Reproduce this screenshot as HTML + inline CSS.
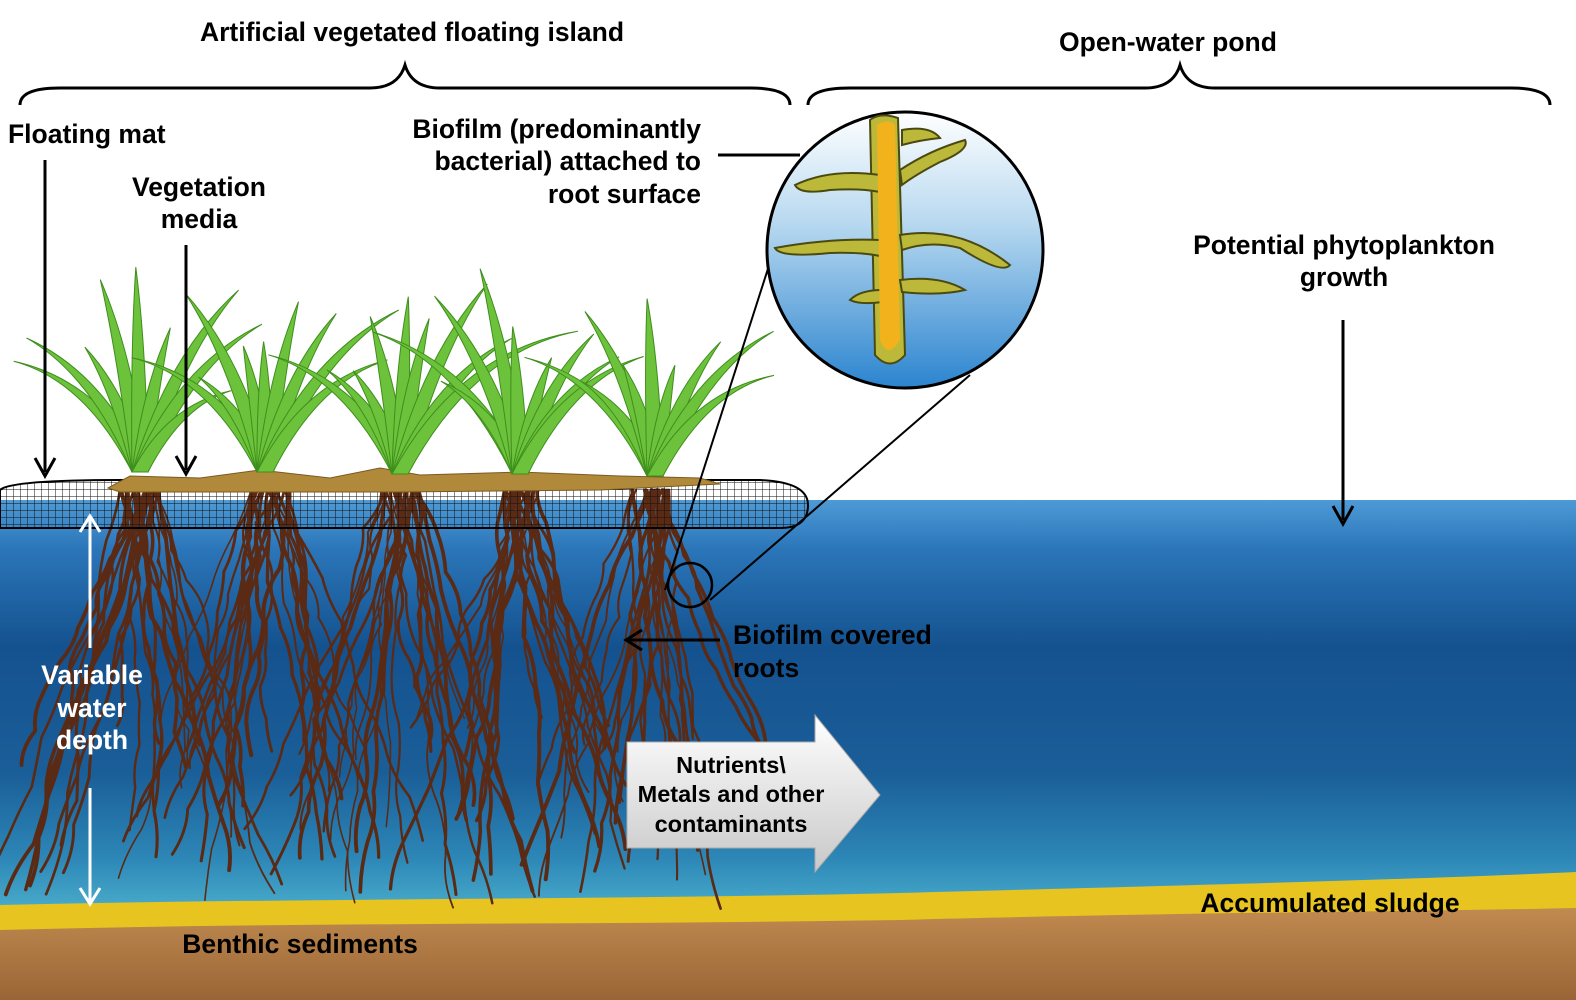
<!DOCTYPE html>
<html><head><meta charset="utf-8"><style>
html,body{margin:0;padding:0;background:#fff;}
svg{display:block;}
text{font-family:"Liberation Sans",Arial,sans-serif;font-weight:bold;fill:#000;}
</style></head><body>
<svg id="s" width="1576" height="1000" viewBox="0 0 1576 1000" xmlns="http://www.w3.org/2000/svg">
<defs>
<linearGradient id="water" x1="0" y1="0" x2="0" y2="1">
<stop offset="0" stop-color="#4e9ad6"/>
<stop offset="0.12" stop-color="#2a75b8"/>
<stop offset="0.35" stop-color="#14528f"/>
<stop offset="0.65" stop-color="#1a5e98"/>
<stop offset="0.85" stop-color="#2c86b6"/>
<stop offset="1" stop-color="#4fb3cf"/>
</linearGradient>
<linearGradient id="sed" x1="0" y1="0" x2="0" y2="1">
<stop offset="0" stop-color="#c08a50"/><stop offset="1" stop-color="#9a6535"/>
</linearGradient>
<linearGradient id="circ" x1="0" y1="0" x2="0" y2="1">
<stop offset="0" stop-color="#ffffff"/><stop offset="0.4" stop-color="#b8d9f0"/><stop offset="1" stop-color="#2b84cf"/>
</linearGradient>
<linearGradient id="arr" x1="0" y1="0" x2="0" y2="1">
<stop offset="0" stop-color="#ffffff"/><stop offset="1" stop-color="#c8c8c8"/>
</linearGradient>
<pattern id="grid" width="7" height="7" patternUnits="userSpaceOnUse">
<path d="M7 0V7M0 7H7" stroke="#111" stroke-width="1" fill="none"/>
</pattern>
<clipPath id="cc"><circle cx="905" cy="250" r="138"/></clipPath>
</defs>
<rect x="0" y="500" width="1576" height="420" fill="url(#water)"/>
<path d="M0 905 C300 898 600 900 900 893 C1200 885 1400 880 1576 872 L1576 1000 L0 1000Z" fill="#e7c420"/>
<path d="M0 930 C300 922 600 925 900 920 C1200 912 1400 912 1576 908 L1576 1000 L0 1000Z" fill="url(#sed)"/>
<g id="roots" stroke="#5a2a14" fill="none" stroke-linecap="round"></g>
<path d="M0 490 Q10 480 120 480 L760 480 Q808 482 808 505 Q808 528 780 528 L0 528Z" fill="url(#grid)" stroke="#000" stroke-width="2"/>
<path d="M108 488 L130 476 L200 478 L260 470 L330 478 L380 468 L420 475 L520 472 L620 476 L700 478 L720 484 L600 490 L400 492 L200 492 L120 492Z" fill="#b08a3a" stroke="#7a5a20" stroke-width="1"/>
<g id="plants" fill="#6cc23a" stroke="#3f8e1e" stroke-width="1"></g>
<line x1="665" y1="590" x2="790" y2="200" stroke="#000" stroke-width="2"/>
<line x1="710" y1="600" x2="970" y2="375" stroke="#000" stroke-width="2"/>
<circle cx="905" cy="250" r="138" fill="url(#circ)" stroke="#000" stroke-width="3"/>
<g clip-path="url(#cc)" stroke="#4a4a10" stroke-width="2" fill="#bcb83a">
<path d="M870 120 Q880 112 898 118 L905 355 Q890 372 875 355 Z"/>
<path d="M880 175 Q830 168 795 185 Q800 195 830 190 Q860 188 880 192Z"/>
<path d="M900 170 Q930 150 965 140 Q970 150 940 162 Q915 175 902 185Z"/>
<path d="M880 240 Q830 238 775 248 Q780 258 830 253 Q860 252 880 256Z"/>
<path d="M900 235 Q960 225 1010 265 Q1002 275 960 248 Q930 240 902 250Z"/>
<path d="M882 290 Q860 290 850 300 Q860 305 882 302Z"/>
<path d="M900 280 Q940 275 965 290 Q940 296 902 292Z"/>
<path d="M902 130 Q930 125 940 138 Q920 140 902 145Z"/>
</g>
<path d="M877 125 Q888 118 895 125 L900 340 Q888 360 880 340Z" fill="#f2b21c"/>
<circle cx="690" cy="585" r="22" fill="none" stroke="#000" stroke-width="2.5"/>
<path d="M20 105 Q20 88 60 88 L370 88 Q398 88 405 65 Q412 88 440 88 L750 88 Q790 88 790 105" fill="none" stroke="#000" stroke-width="3"/>
<path d="M808 105 Q808 88 850 88 L1145 88 Q1173 88 1180 65 Q1187 88 1215 88 L1510 88 Q1550 88 1550 105" fill="none" stroke="#000" stroke-width="3"/>
<g stroke="#000" stroke-width="3" fill="none">
<line x1="45" y1="160" x2="45" y2="472"/><path d="M35 458 L45 476 L55 458"/>
<line x1="186" y1="245" x2="186" y2="470"/><path d="M176 456 L186 474 L196 456"/>
<line x1="1343" y1="320" x2="1343" y2="520"/><path d="M1333 506 L1343 524 L1353 506"/>
<line x1="718" y1="155" x2="800" y2="155"/>
<line x1="720" y1="640" x2="628" y2="640"/><path d="M642 630 L626 640 L642 650"/>
</g>
<g stroke="#fff" stroke-width="3" fill="none">
<line x1="90" y1="518" x2="90" y2="648"/><path d="M80 532 L90 516 L100 532"/>
<line x1="90" y1="788" x2="90" y2="902"/><path d="M80 888 L90 904 L100 888"/>
</g>
<path d="M627 742 L815 742 L815 715 L880 795 L815 872 L815 848 L627 848Z" fill="url(#arr)" stroke="#aaa"/>
<g font-size="26.5">
<text x="412" y="41" text-anchor="middle">Artificial vegetated floating island</text>
<text x="1168" y="51" text-anchor="middle">Open-water pond</text>
<text x="8" y="143">Floating mat</text>
<text x="199" y="196" text-anchor="middle">Vegetation</text>
<text x="199" y="228" text-anchor="middle">media</text>
<text x="701" y="138" text-anchor="end">Biofilm (predominantly</text>
<text x="701" y="170" text-anchor="end">bacterial) attached to</text>
<text x="701" y="203" text-anchor="end">root surface</text>
<text x="1344" y="254" text-anchor="middle">Potential phytoplankton</text>
<text x="1344" y="286" text-anchor="middle">growth</text>
<text x="733" y="644">Biofilm covered</text>
<text x="733" y="677">roots</text>
<text x="92" y="684" text-anchor="middle" style="fill:#fff">Variable</text>
<text x="92" y="717" text-anchor="middle" style="fill:#fff">water</text>
<text x="92" y="749" text-anchor="middle" style="fill:#fff">depth</text>
<text x="1330" y="912" text-anchor="middle">Accumulated sludge</text>
<text x="300" y="953" text-anchor="middle">Benthic sediments</text>
</g>
<g font-size="23.5">
<text x="731" y="773" text-anchor="middle">Nutrients\</text>
<text x="731" y="802" text-anchor="middle">Metals and other</text>
<text x="731" y="832" text-anchor="middle">contaminants</text>
</g>
</svg>
<script>
(function(){
var seed=7;function r(){seed=(seed*16807)%2147483647;return seed/2147483647;}
var ns="http://www.w3.org/2000/svg";
var g=document.getElementById("roots");
var cx=[140,270,400,520,650];
cx.forEach(function(c){
 for(var i=0;i<26;i++){
  var x=c+(r()-0.5)*40,y=490,d="M"+x.toFixed(1)+" "+y;
  var len=220+r()*200,dir=(r()-0.5)*1.6;
  for(var k=0;k<8;k++){
   var ny=y+len/8,nx=x+dir*len/16+(r()-0.5)*18;
   d+=" Q"+((x+nx)/2+(r()-0.5)*14).toFixed(1)+" "+((y+ny)/2).toFixed(1)+" "+nx.toFixed(1)+" "+ny.toFixed(1);
   x=nx;y=ny;
  }
  var p=document.createElementNS(ns,"path");p.setAttribute("d",d);
  p.setAttribute("stroke-width",(1.5+r()*2.5).toFixed(1));g.appendChild(p);
 }
});
var pg=document.getElementById("plants");
var pc=[[140,472],[265,472],[400,474],[520,474],[655,476]];
pc.forEach(function(c){
 for(var i=0;i<9;i++){
  var a=(i-4)*0.19+(r()-0.5)*0.1,h=110+r()*100;
  var tx=c[0]+Math.sin(a)*h*1.2,ty=c[1]-Math.cos(a)*h;
  var w=8;
  var d="M"+(c[0]-w)+" "+c[1]+" Q"+(c[0]+Math.sin(a)*h*0.45-w)+" "+(c[1]-h*0.6)+" "+tx.toFixed(1)+" "+ty.toFixed(1)+" Q"+(c[0]+Math.sin(a)*h*0.45+w)+" "+(c[1]-h*0.6)+" "+(c[0]+w)+" "+c[1]+"Z";
  var p=document.createElementNS(ns,"path");p.setAttribute("d",d);pg.appendChild(p);
 }
});
})();
</script>
</body></html>
